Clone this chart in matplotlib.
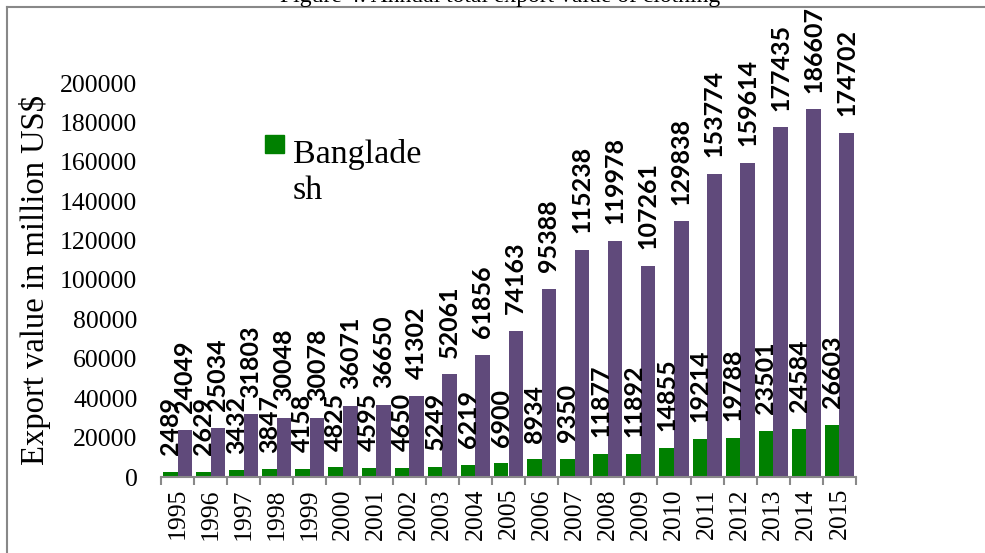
import numpy as np
import matplotlib.pyplot as plt
from matplotlib.lines import Line2D
from matplotlib.patches import Rectangle

years = [str(y) for y in range(1995, 2016)]
bangladesh = [2489, 2629, 3432, 3847, 4158, 4825, 4595, 4650, 5249, 6219, 6900,
              8934, 9350, 11877, 11892, 14855, 19214, 19788, 23501, 24584, 26603]
china = [24049, 25034, 31803, 30048, 30078, 36071, 36650, 41302, 52061, 61856, 74163,
         95388, 115238, 119978, 107261, 129838, 153774, 159614, 177435, 186607, 174702]

green = '#008000'
purple = '#604a7b'
serif = 'Liberation Serif'

fig = plt.figure(figsize=(9.85, 5.53), dpi=100)
ax = fig.add_axes([161 / 985, 1 - 477 / 553, (856 - 161) / 985, (477 - 83) / 553])

x = np.arange(len(years))
w = 0.44
ax.bar(x - w / 2, bangladesh, w, color=green)
ax.bar(x + w / 2, china, w, color=purple)

# data labels, rotated, just above each bar
for xs, vals in [(x - w / 2, bangladesh), (x + w / 2, china)]:
    for xi, v in zip(xs, vals):
        ax.annotate(str(v), (xi, v), xytext=(0, 12), textcoords='offset points',
                    rotation=90, ha='center', va='bottom', fontsize=18,
                    fontweight='bold', family='Lato', clip_on=False)

ax.set_xlim(-0.5, len(years) - 0.5)
ax.set_ylim(0, 200000)
ax.set_yticks(np.arange(0, 200001, 20000))
ax.set_yticklabels([str(t) for t in range(0, 200001, 20000)], family=serif, fontsize=18.5)
ax.tick_params(axis='y', length=0, pad=17)

# x axis: ticks between categories, labels at centres
ax.set_xticks(np.arange(-0.5, len(years)), minor=False)
ax.set_xticklabels([''] * (len(years) + 1))
ax.set_xticks(x, minor=True)
ax.set_xticklabels(years, minor=True, rotation=90, family=serif, fontsize=18.5)
ax.tick_params(axis='x', which='major', length=6, color='#898989', width=1.5)
ax.tick_params(axis='x', which='minor', length=0, pad=8)

for s in ['top', 'right', 'left']:
    ax.spines[s].set_visible(False)
ax.spines['bottom'].set_color('#898989')
ax.spines['bottom'].set_linewidth(1.5)

ax.set_ylabel('Export value in million US$', family=serif, fontsize=23.5)
ax.yaxis.set_label_coords((51 - 161) / 695, 0.5)

# legend: green square next to the wrapped series name
fig.add_artist(Rectangle((265 / 985, 1 - 153 / 553), 19 / 985, 18 / 553,
                         transform=fig.transFigure, color=green))
fig.text(293 / 985, 1 - 199 / 553, 'Banglade\nsh', ha='left', va='baseline',
         family=serif, fontsize=24.5, linespacing=1.25)

# outer frame and clipped caption
fig.add_artist(Line2D([7 / 985, 7 / 985], [0, 1 - 7 / 553], color='#888888', lw=1.5))
fig.add_artist(Line2D([7 / 985, 1], [1 - 7 / 553, 1 - 7 / 553], color='#888888', lw=1.5))
fig.text(500 / 985, 1 - 2 / 553, 'Figure 4: Annual total export value of clothing',
         ha='center', va='baseline', family=serif, fontsize=17)

fig.savefig('out.png', dpi=100)
